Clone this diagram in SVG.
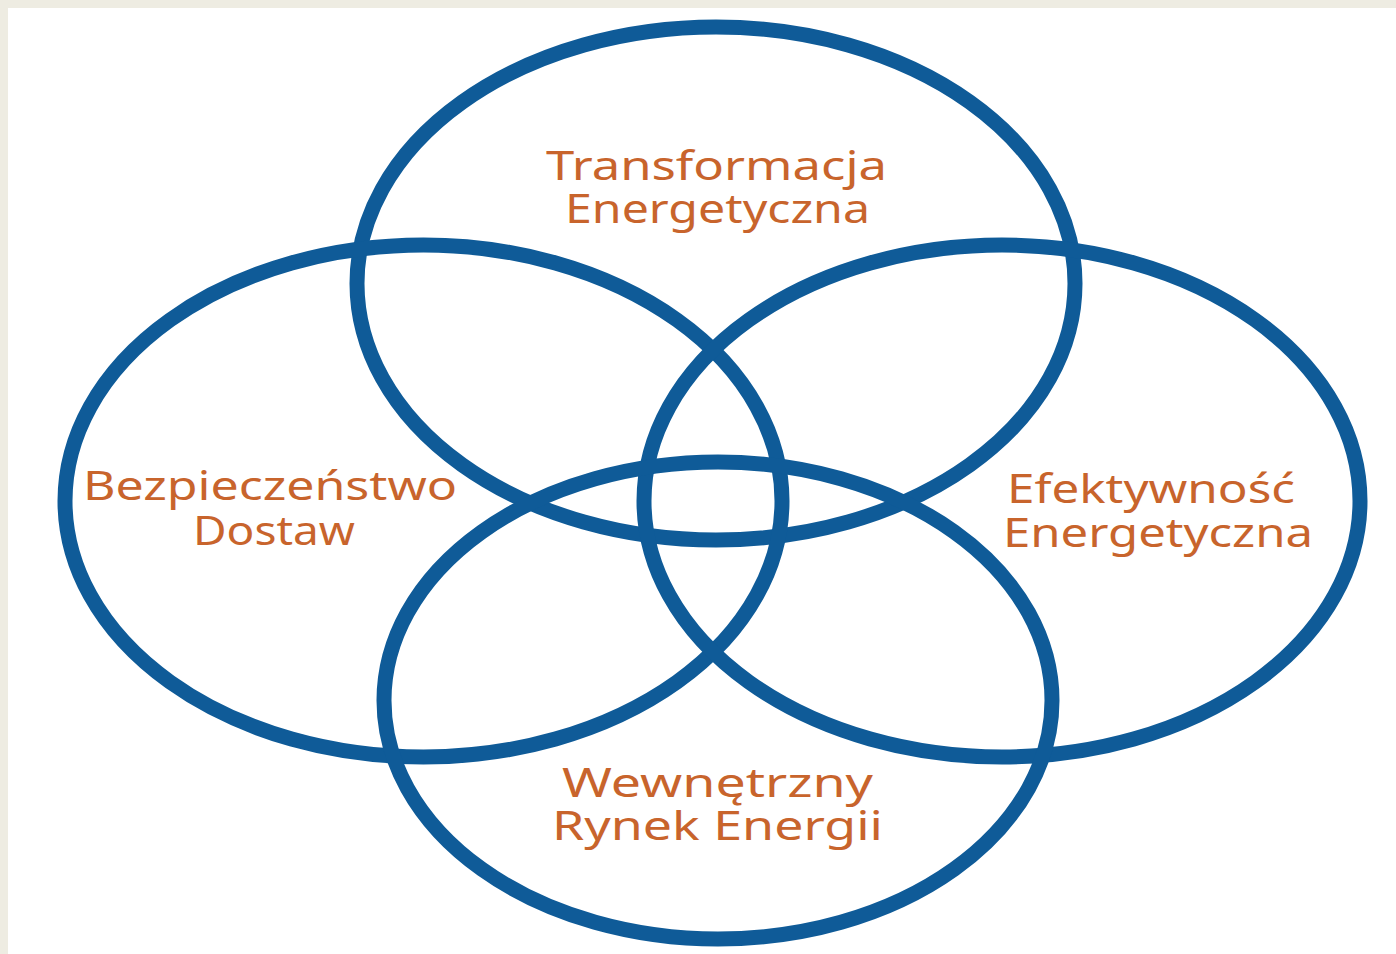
<svg xmlns="http://www.w3.org/2000/svg" width="1396" height="954" viewBox="0 0 1396 954">
<style>
.ring{fill:none;stroke:#0f5b98;stroke-width:15}
.lbl{font-family:"Noto Sans","Open Sans","Liberation Sans",sans-serif;font-size:40px;fill:#c8642c}
</style>
<rect x="0" y="0" width="1396" height="954" fill="#eeece2"/>
<rect x="8" y="8" width="1388" height="946" fill="#ffffff"/>
<g id="node-transformacja">
<ellipse class="ring" cx="716" cy="283.5" rx="359" ry="256.5"/>
<text class="lbl" x="546" y="180" textLength="341" lengthAdjust="spacingAndGlyphs">Transformacja</text>
<text class="lbl" x="565" y="223" textLength="305" lengthAdjust="spacingAndGlyphs">Energetyczna</text>
</g>
<g id="node-bezpieczenstwo">
<ellipse class="ring" cx="423.5" cy="501" rx="358.5" ry="256"/>
<text class="lbl" x="83" y="500" textLength="374" lengthAdjust="spacingAndGlyphs">Bezpieczeństwo</text>
<text class="lbl" x="193" y="545" textLength="162" lengthAdjust="spacingAndGlyphs">Dostaw</text>
</g>
<g id="node-efektywnosc">
<ellipse class="ring" cx="1002" cy="501" rx="358" ry="256"/>
<text class="lbl" x="1007" y="503" textLength="288" lengthAdjust="spacingAndGlyphs">Efektywność</text>
<text class="lbl" x="1003" y="547" textLength="310" lengthAdjust="spacingAndGlyphs">Energetyczna</text>
</g>
<g id="node-rynek">
<ellipse class="ring" cx="718" cy="700.5" rx="334" ry="238.5"/>
<text class="lbl" x="562" y="797" textLength="311" lengthAdjust="spacingAndGlyphs">Wewnętrzny</text>
<text class="lbl" x="552" y="840" textLength="331" lengthAdjust="spacingAndGlyphs">Rynek Energii</text>
</g>
<g id="connectors"></g>
</svg>
